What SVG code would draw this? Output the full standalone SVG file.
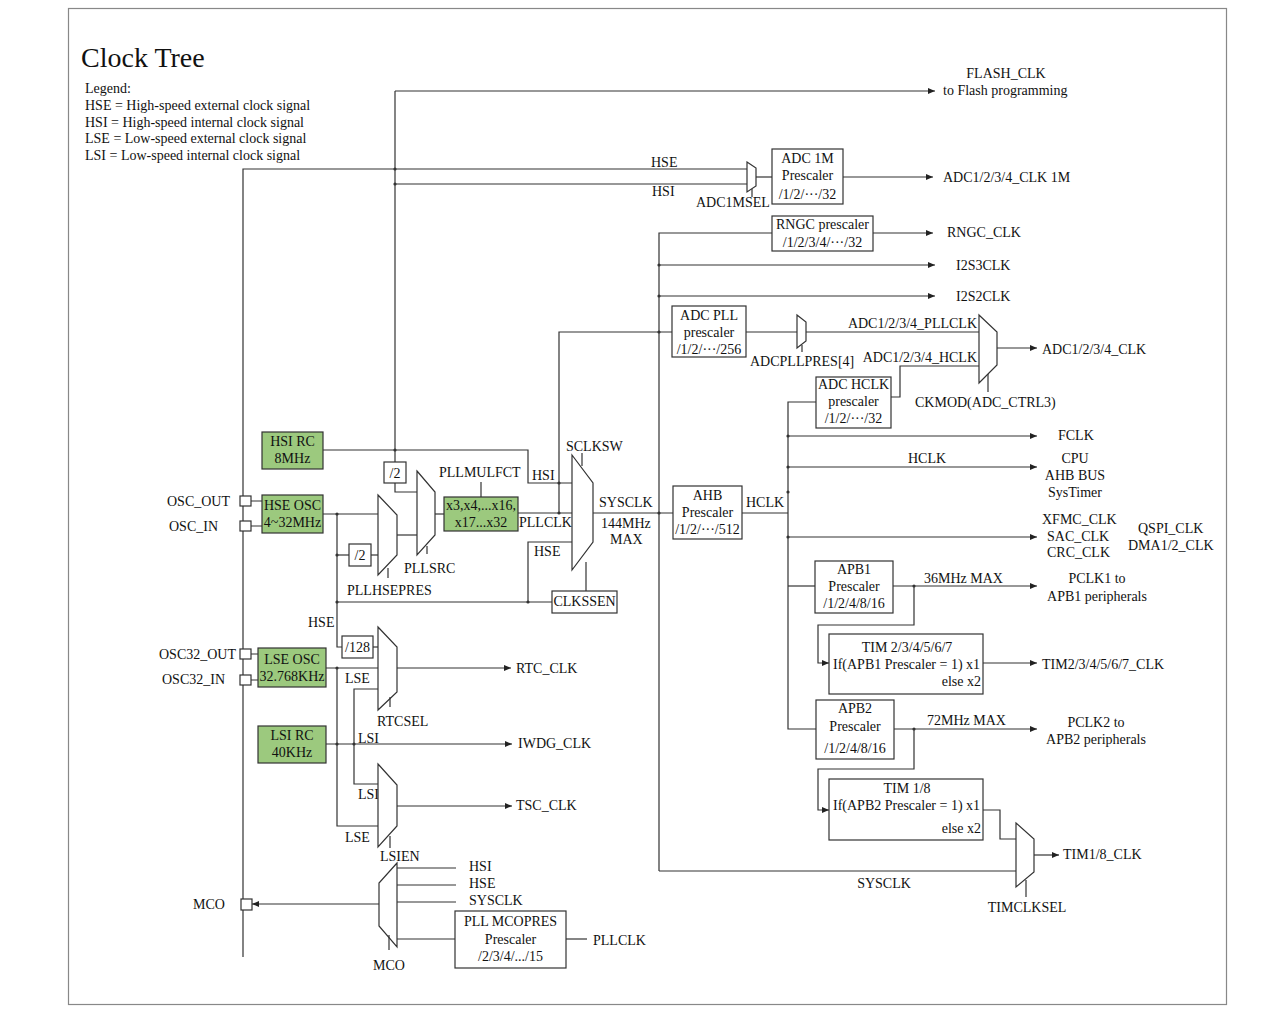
<svg xmlns="http://www.w3.org/2000/svg" width="1270" height="1024" viewBox="0 0 1270 1024">
<style>
text{font-family:"Liberation Serif","Times New Roman",serif;font-size:14px;fill:#111}
.c{text-anchor:middle}
.e{text-anchor:end}
.box{fill:#fff;stroke:#333;stroke-width:1.2}
.g{fill:#9CC97E;stroke:#333;stroke-width:1.2}
.mux{fill:#fff;stroke:#333;stroke-width:1.2}
.w{fill:none;stroke:#333;stroke-width:1.2}
.a{fill:none;stroke:#333;stroke-width:1.2;marker-end:url(#arr)}
.pin{fill:#fff;stroke:#333;stroke-width:1.2}
.d{fill:#333}
</style>
<defs>
<marker id="arr" markerUnits="userSpaceOnUse" markerWidth="8" markerHeight="6" refX="7" refY="3" orient="auto">
<path d="M0,0 L7,3 L0,6 z" fill="#222"/>
</marker>
</defs>
<rect x="68.5" y="8.5" width="1158" height="996" fill="#fff" stroke="#888" stroke-width="1.2"/>
<g id="title">
<text x="81" y="67" style="font-size:28px">Clock Tree</text>
<text x="85" y="93">Legend:</text>
<text x="85" y="110">HSE = High-speed external clock signal</text>
<text x="85" y="127">HSI = High-speed internal clock signal</text>
<text x="85" y="143">LSE = Low-speed external clock signal</text>
<text x="85" y="160">LSI = Low-speed internal clock signal</text>
</g>
<g id="connectors">
<path class="w" d="M243,957 V169 H747"/>
<path class="w" d="M395,462 V91"/>
<path class="a" d="M395,91 H935"/>
<path class="w" d="M395,184 H747"/>
<path class="w" d="M756,177 H772"/>
<path class="a" d="M843,177 H933"/>
<path class="w" d="M659,871 V233 H772"/>
<path class="a" d="M873,233 H933"/>
<path class="a" d="M659,265 H935"/>
<path class="a" d="M659,296 H935"/>
<path class="w" d="M559,513 V332 H672"/>
<path class="w" d="M746,332 H797"/>
<path class="w" d="M806,332 H979"/>
<path class="a" d="M997,348 H1037"/>
<path class="w" d="M891,397 H900 V366 H979"/>
<path class="w" d="M816,402 H788 V729 H816"/>
<path class="a" d="M788,436 H1037"/>
<path class="a" d="M788,467 H1037"/>
<path class="a" d="M788,537 H1037"/>
<path class="w" d="M788,586 H815"/>
<path class="a" d="M893,586 H1037"/>
<path class="a" d="M914,586 V625 H818 V663 H829"/>
<path class="a" d="M983,663 H1037"/>
<path class="a" d="M894,729 H1037"/>
<path class="a" d="M914,729 V769 H818 V810 H829"/>
<path class="w" d="M983,810 H1000 V839 H1016"/>
<path class="a" d="M1034,855 H1059"/>
<path class="w" d="M659,871 H1016"/>
<path class="w" d="M593,513 H673"/>
<path class="w" d="M742,513 H788"/>
<path class="w" d="M323,450 H528 V483 H572"/>
<path class="w" d="M395,483 V492 H417"/>
<path class="w" d="M323,514 H378"/>
<path class="w" d="M337,514 V647 H342"/>
<path class="w" d="M337,555 H349"/>
<path class="w" d="M371,555 H378"/>
<path class="w" d="M397,535 H417"/>
<path class="w" d="M435,514 H444"/>
<path class="w" d="M518,513 H572"/>
<path class="w" d="M481,497 V482"/>
<path class="w" d="M337,602 H552"/>
<path class="w" d="M528,602 V542 H572"/>
<path class="w" d="M586,591 V562"/>
<path class="w" d="M251,501 H262 M251,526 H262 M251,654 H258 M251,680 H258"/>
<path class="w" d="M373,647 H378"/>
<path class="w" d="M326,668 H378"/>
<path class="a" d="M397,668 H511"/>
<path class="w" d="M337,668 V826 H378"/>
<path class="a" d="M326,744 H512"/>
<path class="w" d="M378,689 H354 V784 H378"/>
<path class="a" d="M397,806 H512"/>
<path class="a" d="M379,904 H252"/>
<path class="w" d="M397,868 H456 M397,885 H456 M397,902 H456 M397,939 H455"/>
<path class="w" d="M566,939 H587"/>
<g class="d">
<circle cx="395" cy="169" r="1.6"/><circle cx="395" cy="184" r="1.6"/><circle cx="395" cy="450" r="1.6"/>
<circle cx="659" cy="265" r="1.6"/><circle cx="659" cy="296" r="1.6"/><circle cx="659" cy="332" r="1.6"/><circle cx="659" cy="513" r="1.6"/>
<circle cx="559" cy="513" r="1.6"/><circle cx="559" cy="483" r="1.6"/>
<circle cx="788" cy="436" r="1.6"/><circle cx="788" cy="467" r="1.6"/><circle cx="788" cy="492" r="1.6"/><circle cx="788" cy="537" r="1.6"/>
<circle cx="914" cy="586" r="1.6"/><circle cx="914" cy="729" r="1.6"/>
<circle cx="337" cy="514" r="1.6"/><circle cx="337" cy="555" r="1.6"/><circle cx="337" cy="602" r="1.6"/><circle cx="528" cy="602" r="1.6"/>
<circle cx="337" cy="668" r="1.6"/><circle cx="337" cy="744" r="1.6"/><circle cx="354" cy="744" r="1.6"/>
</g>
</g>
<g id="labels">
<text x="1006" y="78" class="c">FLASH_CLK</text>
<text x="943" y="95">to Flash programming</text>
<text x="651" y="167">HSE</text>
<text x="652" y="196">HSI</text>
<text x="943" y="182">ADC1/2/3/4_CLK 1M</text>
<text x="947" y="237">RNGC_CLK</text>
<text x="956" y="270">I2S3CLK</text>
<text x="956" y="301">I2S2CLK</text>
<text x="977" y="328" class="e">ADC1/2/3/4_PLLCLK</text>
<text x="977" y="362" class="e">ADC1/2/3/4_HCLK</text>
<text x="1042" y="354">ADC1/2/3/4_CLK</text>
<text x="1058" y="440">FCLK</text>
<text x="908" y="463">HCLK</text>
<text x="1075" y="463" class="c">CPU</text>
<text x="1075" y="480" class="c">AHB BUS</text>
<text x="1075" y="497" class="c">SysTimer</text>
<text x="746" y="507">HCLK</text>
<text x="1042" y="524">XFMC_CLK</text>
<text x="1047" y="541">SAC_CLK</text>
<text x="1047" y="557">CRC_CLK</text>
<text x="1138" y="533">QSPI_CLK</text>
<text x="1128" y="550">DMA1/2_CLK</text>
<text x="924" y="583">36MHz MAX</text>
<text x="1097" y="583" class="c">PCLK1 to</text>
<text x="1097" y="601" class="c">APB1 peripherals</text>
<text x="1042" y="669">TIM2/3/4/5/6/7_CLK</text>
<text x="927" y="725">72MHz MAX</text>
<text x="1096" y="727" class="c">PCLK2 to</text>
<text x="1096" y="744" class="c">APB2 peripherals</text>
<text x="1063" y="859">TIM1/8_CLK</text>
<text x="884" y="888" class="c">SYSCLK</text>
<text x="599" y="507">SYSCLK</text>
<text x="601" y="528">144MHz</text>
<text x="610" y="544">MAX</text>
<text x="519" y="527">PLLCLK</text>
<text x="532" y="480">HSI</text>
<text x="534" y="556">HSE</text>
<text x="167" y="506">OSC_OUT</text>
<text x="169" y="531">OSC_IN</text>
<text x="308" y="627">HSE</text>
<text x="159" y="659">OSC32_OUT</text>
<text x="162" y="684">OSC32_IN</text>
<text x="345" y="683">LSE</text>
<text x="358" y="743">LSI</text>
<text x="358" y="799">LSI</text>
<text x="345" y="842">LSE</text>
<text x="516" y="673">RTC_CLK</text>
<text x="518" y="748">IWDG_CLK</text>
<text x="516" y="810">TSC_CLK</text>
<text x="469" y="871">HSI</text>
<text x="469" y="888">HSE</text>
<text x="469" y="905">SYSCLK</text>
<text x="193" y="909">MCO</text>
<text x="593" y="945">PLLCLK</text>
</g>
<g id="adc1mprescaler">
<rect class="box" x="772" y="149" width="71" height="55"/>
<text x="807.5" y="163" class="c">ADC 1M</text>
<text x="807.5" y="180" class="c">Prescaler</text>
<text x="807.5" y="199" class="c">/1/2/···/32</text>
</g>
<g id="adc1msel">
<polygon class="mux" points="747,162 756,168 756,186 747,192"/>
<path class="w" d="M752,189 V197"/>
<text x="696" y="207">ADC1MSEL</text>
</g>
<g id="rngcprescaler">
<rect class="box" x="772" y="216" width="101" height="35"/>
<text x="822.5" y="229" class="c">RNGC prescaler</text>
<text x="822.5" y="247" class="c">/1/2/3/4/···/32</text>
</g>
<g id="adcpllprescaler">
<rect class="box" x="672" y="306" width="74" height="51"/>
<text x="709" y="320" class="c">ADC PLL</text>
<text x="709" y="337" class="c">prescaler</text>
<text x="709" y="354" class="c">/1/2/···/256</text>
</g>
<g id="adcpllpres">
<polygon class="mux" points="797,315 806,322 806,341 797,348"/>
<path class="w" d="M802,345 V352"/>
<text x="750" y="366">ADCPLLPRES[4]</text>
</g>
<g id="ckmod">
<polygon class="mux" points="979,315 997,332 997,365 979,383"/>
<path class="w" d="M988,374 V392"/>
<text x="915" y="407">CKMOD(ADC_CTRL3)</text>
</g>
<g id="adchclkprescaler">
<rect class="box" x="816" y="377" width="75" height="51"/>
<text x="853.5" y="389" class="c">ADC HCLK</text>
<text x="853.5" y="406" class="c">prescaler</text>
<text x="853.5" y="423" class="c">/1/2/···/32</text>
</g>
<g id="ahbprescaler">
<rect class="box" x="673" y="486" width="69" height="53"/>
<text x="707.5" y="500" class="c">AHB</text>
<text x="707.5" y="517" class="c">Prescaler</text>
<text x="707.5" y="534" class="c">/1/2/···/512</text>
</g>
<g id="apb1prescaler">
<rect class="box" x="815" y="561" width="78" height="52"/>
<text x="854" y="574" class="c">APB1</text>
<text x="854" y="591" class="c">Prescaler</text>
<text x="854" y="608" class="c">/1/2/4/8/16</text>
</g>
<g id="tim2to7">
<rect class="box" x="829" y="634" width="154" height="60"/>
<text x="907" y="652" class="c">TIM 2/3/4/5/6/7</text>
<text x="833" y="669">If(APB1 Prescaler = 1) x1</text>
<text x="981" y="686" class="e">else x2</text>
</g>
<g id="apb2prescaler">
<rect class="box" x="816" y="700" width="78" height="59"/>
<text x="855" y="713" class="c">APB2</text>
<text x="855" y="731" class="c">Prescaler</text>
<text x="855" y="753" class="c">/1/2/4/8/16</text>
</g>
<g id="tim18">
<rect class="box" x="829" y="779" width="154" height="61"/>
<text x="907" y="793" class="c">TIM 1/8</text>
<text x="833" y="810">If(APB2 Prescaler = 1) x1</text>
<text x="981" y="833" class="e">else x2</text>
</g>
<g id="timclksel">
<polygon class="mux" points="1016,823 1034,839 1034,872 1016,887"/>
<path class="w" d="M1026,880 V897"/>
<text x="1027" y="912" class="c">TIMCLKSEL</text>
</g>
<g id="hsirc">
<rect class="g" x="262" y="432" width="61" height="37"/>
<text x="292.5" y="446" class="c">HSI RC</text>
<text x="292.5" y="463" class="c">8MHz</text>
</g>
<g id="hsidiv2">
<rect class="box" x="384" y="462" width="22" height="21"/>
<text x="395" y="478" class="c">/2</text>
</g>
<g id="hseosc">
<rect class="pin" x="240" y="496" width="11" height="10"/>
<rect class="pin" x="240" y="521" width="11" height="10"/>
<rect class="g" x="262" y="495" width="61" height="38"/>
<text x="292.5" y="510" class="c">HSE OSC</text>
<text x="292.5" y="527" class="c">4~32MHz</text>
</g>
<g id="hsediv2">
<rect class="box" x="349" y="544" width="22" height="22"/>
<text x="360" y="560" class="c">/2</text>
</g>
<g id="pllhsepres">
<polygon class="mux" points="378,495 397,515 397,555 378,575"/>
<path class="w" d="M388,568 V578"/>
<text x="347" y="595">PLLHSEPRES</text>
</g>
<g id="pllsrc">
<polygon class="mux" points="417,471 435,492 435,535 417,555"/>
<path class="w" d="M427,546 V554"/>
<text x="404" y="573">PLLSRC</text>
</g>
<g id="pllmul">
<rect class="g" x="444" y="497" width="74" height="34"/>
<text x="481" y="510" class="c">x3,x4,...x16,</text>
<text x="481" y="527" class="c">x17...x32</text>
<text x="439" y="477">PLLMULFCT</text>
</g>
<g id="sclksw">
<polygon class="mux" points="572,455 593,483 593,542 572,570"/>
<path class="w" d="M582,453 V466"/>
<text x="566" y="451">SCLKSW</text>
</g>
<g id="clkssen">
<rect class="box" x="552" y="591" width="65" height="22"/>
<text x="584.5" y="606" class="c">CLKSSEN</text>
</g>
<g id="div128">
<rect class="box" x="342" y="636" width="31" height="22"/>
<text x="357.5" y="652" class="c">/128</text>
</g>
<g id="lseosc">
<rect class="pin" x="240" y="649" width="11" height="10"/>
<rect class="pin" x="240" y="675" width="11" height="10"/>
<rect class="g" x="258" y="648" width="68" height="39"/>
<text x="292" y="664" class="c">LSE OSC</text>
<text x="292" y="681" class="c">32.768KHz</text>
</g>
<g id="rtcsel">
<polygon class="mux" points="378,627 397,647 397,692 378,710"/>
<path class="w" d="M390,697 V707"/>
<text x="377" y="726">RTCSEL</text>
</g>
<g id="lsirc">
<rect class="g" x="258" y="726" width="68" height="37"/>
<text x="292" y="740" class="c">LSI RC</text>
<text x="292" y="757" class="c">40KHz</text>
</g>
<g id="lsien">
<polygon class="mux" points="378,764 397,785 397,826 378,847"/>
<path class="w" d="M390,836 V848"/>
<text x="380" y="861">LSIEN</text>
</g>
<g id="mcomux">
<rect class="pin" x="241" y="899" width="11" height="11"/>
<polygon class="mux" points="397,863 379,883 379,926 397,947"/>
<path class="w" d="M389,935 V950"/>
<text x="373" y="970">MCO</text>
</g>
<g id="pllmcopres">
<rect class="box" x="455" y="911" width="111" height="57"/>
<text x="510.5" y="926" class="c">PLL MCOPRES</text>
<text x="510.5" y="944" class="c">Prescaler</text>
<text x="510.5" y="961" class="c">/2/3/4/.../15</text>
</g>
</svg>
